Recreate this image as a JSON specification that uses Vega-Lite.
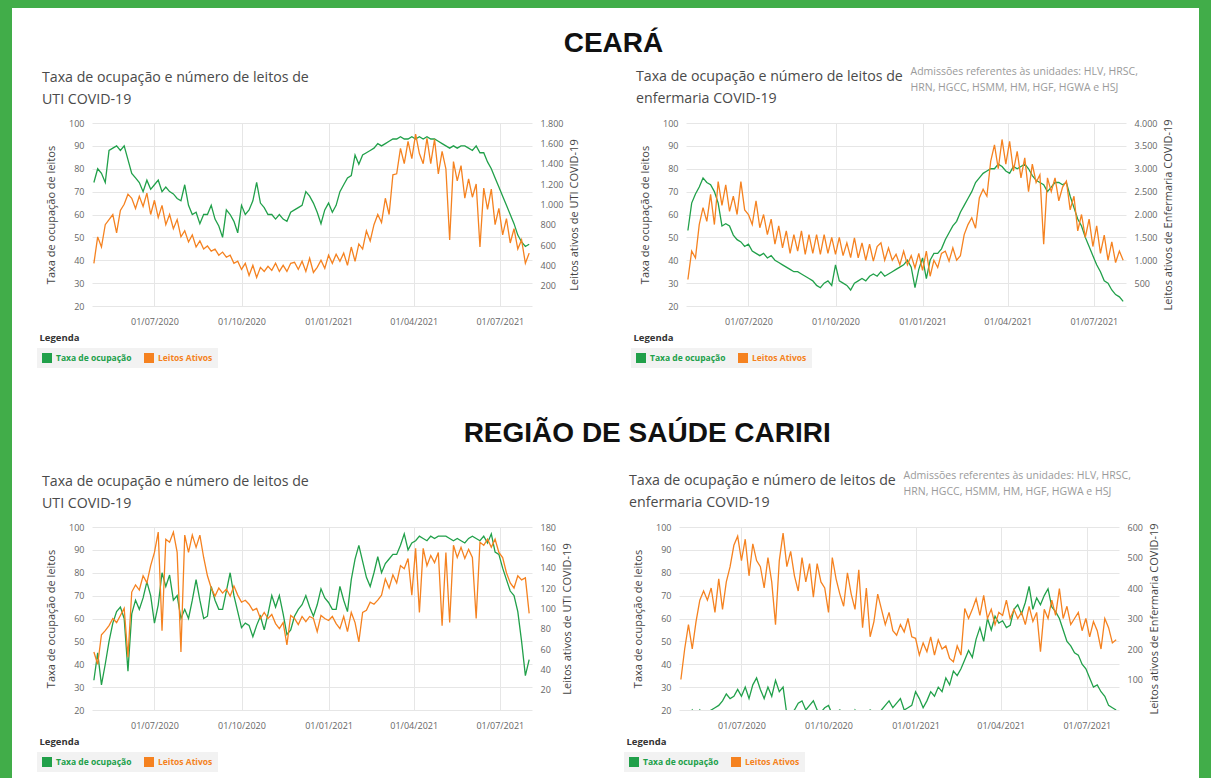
{
"$schema":"https://vega.github.io/schema/vega-lite/v6.json",
"background":"white",
"padding":0,
"config":{"font":"Open Sans","view":{"stroke":null},
 "axis":{"labelFont":"Open Sans","labelFontSize":9,"labelColor":"#666","titleFont":"Open Sans","titleFontSize":11,"titleFontWeight":"normal","titleColor":"#444","ticks":false,"domain":false,"gridColor":"#e6e6e6","gridWidth":1},
 "title":{"font":"Open Sans"}},
"datasets":{
"ce_uti":[{"d":"2020-04-28","t":74,"l":420},{"d":"2020-05-02","t":80,"l":680},{"d":"2020-05-06","t":78,"l":580},{"d":"2020-05-10","t":74,"l":800},{"d":"2020-05-14","t":88,"l":850},{"d":"2020-05-18","t":89,"l":900},{"d":"2020-05-22","t":90,"l":720},{"d":"2020-05-26","t":88,"l":940},{"d":"2020-05-30","t":90,"l":1000},{"d":"2020-06-03","t":84,"l":1100},{"d":"2020-06-07","t":78,"l":1060},{"d":"2020-06-11","t":76,"l":960},{"d":"2020-06-15","t":74,"l":1080},{"d":"2020-06-19","t":70,"l":980},{"d":"2020-06-23","t":75,"l":1110},{"d":"2020-06-27","t":71,"l":900},{"d":"2020-07-01","t":73,"l":1040},{"d":"2020-07-05","t":75,"l":870},{"d":"2020-07-09","t":70,"l":990},{"d":"2020-07-13","t":72,"l":800},{"d":"2020-07-17","t":70,"l":900},{"d":"2020-07-21","t":69,"l":760},{"d":"2020-07-25","t":67,"l":850},{"d":"2020-07-29","t":66,"l":680},{"d":"2020-08-02","t":73,"l":740},{"d":"2020-08-06","t":64,"l":630},{"d":"2020-08-10","t":60,"l":700},{"d":"2020-08-14","t":61,"l":580},{"d":"2020-08-18","t":56,"l":640},{"d":"2020-08-22","t":60,"l":560},{"d":"2020-08-26","t":60,"l":590},{"d":"2020-08-30","t":64,"l":540},{"d":"2020-09-03","t":58,"l":560},{"d":"2020-09-07","t":55,"l":500},{"d":"2020-09-11","t":50,"l":530},{"d":"2020-09-15","t":62,"l":480},{"d":"2020-09-19","t":60,"l":500},{"d":"2020-09-23","t":57,"l":420},{"d":"2020-09-27","t":52,"l":440},{"d":"2020-10-01","t":64,"l":360},{"d":"2020-10-05","t":60,"l":420},{"d":"2020-10-09","t":62,"l":300},{"d":"2020-10-13","t":66,"l":400},{"d":"2020-10-17","t":74,"l":280},{"d":"2020-10-21","t":65,"l":380},{"d":"2020-10-25","t":63,"l":340},{"d":"2020-10-29","t":60,"l":390},{"d":"2020-11-02","t":60,"l":350},{"d":"2020-11-06","t":58,"l":420},{"d":"2020-11-10","t":60,"l":340},{"d":"2020-11-14","t":58,"l":400},{"d":"2020-11-18","t":57,"l":340},{"d":"2020-11-22","t":61,"l":420},{"d":"2020-11-26","t":62,"l":430},{"d":"2020-11-30","t":63,"l":360},{"d":"2020-12-04","t":64,"l":440},{"d":"2020-12-08","t":70,"l":340},{"d":"2020-12-12","t":68,"l":470},{"d":"2020-12-16","t":65,"l":330},{"d":"2020-12-20","t":61,"l":380},{"d":"2020-12-24","t":56,"l":450},{"d":"2020-12-28","t":62,"l":370},{"d":"2021-01-01","t":65,"l":500},{"d":"2021-01-05","t":61,"l":420},{"d":"2021-01-09","t":64,"l":510},{"d":"2021-01-13","t":70,"l":440},{"d":"2021-01-17","t":73,"l":520},{"d":"2021-01-21","t":76,"l":400},{"d":"2021-01-25","t":77,"l":580},{"d":"2021-01-29","t":86,"l":440},{"d":"2021-02-02","t":82,"l":610},{"d":"2021-02-06","t":86,"l":560},{"d":"2021-02-10","t":87,"l":740},{"d":"2021-02-14","t":88,"l":640},{"d":"2021-02-18","t":89,"l":800},{"d":"2021-02-22","t":91,"l":900},{"d":"2021-02-26","t":90,"l":820},{"d":"2021-03-02","t":91,"l":1060},{"d":"2021-03-06","t":92,"l":900},{"d":"2021-03-10","t":93,"l":1290},{"d":"2021-03-14","t":93,"l":1300},{"d":"2021-03-18","t":94,"l":1550},{"d":"2021-03-22","t":93,"l":1400},{"d":"2021-03-26","t":93,"l":1620},{"d":"2021-03-30","t":94,"l":1450},{"d":"2021-04-03","t":93,"l":1690},{"d":"2021-04-07","t":94,"l":1500},{"d":"2021-04-11","t":93,"l":1400},{"d":"2021-04-15","t":94,"l":1650},{"d":"2021-04-19","t":93,"l":1400},{"d":"2021-04-23","t":93,"l":1640},{"d":"2021-04-27","t":92,"l":1300},{"d":"2021-05-01","t":91,"l":1520},{"d":"2021-05-05","t":90,"l":1350},{"d":"2021-05-09","t":89,"l":650},{"d":"2021-05-13","t":90,"l":1420},{"d":"2021-05-17","t":89,"l":1230},{"d":"2021-05-21","t":90,"l":1380},{"d":"2021-05-25","t":90,"l":1060},{"d":"2021-05-29","t":89,"l":1250},{"d":"2021-06-02","t":88,"l":1070},{"d":"2021-06-06","t":90,"l":1200},{"d":"2021-06-10","t":87,"l":580},{"d":"2021-06-14","t":87,"l":1160},{"d":"2021-06-18","t":83,"l":950},{"d":"2021-06-22","t":80,"l":1150},{"d":"2021-06-26","t":76,"l":800},{"d":"2021-06-30","t":72,"l":960},{"d":"2021-07-04","t":68,"l":700},{"d":"2021-07-08","t":64,"l":860},{"d":"2021-07-12","t":60,"l":620},{"d":"2021-07-16","t":56,"l":760},{"d":"2021-07-20","t":51,"l":560},{"d":"2021-07-24","t":48,"l":650},{"d":"2021-07-28","t":46,"l":420},{"d":"2021-08-01","t":47,"l":520}],
"ce_enf":[{"d":"2020-04-28","t":53,"l":580},{"d":"2020-05-02","t":65,"l":1200},{"d":"2020-05-06","t":69,"l":1050},{"d":"2020-05-10","t":72,"l":1780},{"d":"2020-05-14","t":76,"l":2150},{"d":"2020-05-18","t":74,"l":1850},{"d":"2020-05-22","t":73,"l":2440},{"d":"2020-05-26","t":70,"l":1780},{"d":"2020-05-30","t":65,"l":2720},{"d":"2020-06-03","t":55,"l":2200},{"d":"2020-06-07","t":56,"l":2650},{"d":"2020-06-11","t":55,"l":2070},{"d":"2020-06-15","t":51,"l":2400},{"d":"2020-06-19","t":49,"l":2000},{"d":"2020-06-23","t":48,"l":2720},{"d":"2020-06-27","t":46,"l":2100},{"d":"2020-07-01","t":47,"l":2000},{"d":"2020-07-05","t":44,"l":1780},{"d":"2020-07-09","t":43,"l":2300},{"d":"2020-07-13","t":42,"l":1710},{"d":"2020-07-17","t":43,"l":2000},{"d":"2020-07-21","t":41,"l":1560},{"d":"2020-07-25","t":42,"l":1900},{"d":"2020-07-29","t":40,"l":1350},{"d":"2020-08-02","t":39,"l":1750},{"d":"2020-08-06","t":38,"l":1270},{"d":"2020-08-10","t":37,"l":1640},{"d":"2020-08-14","t":36,"l":1150},{"d":"2020-08-18","t":35,"l":1560},{"d":"2020-08-22","t":35,"l":1200},{"d":"2020-08-26","t":34,"l":1640},{"d":"2020-08-30","t":33,"l":1130},{"d":"2020-09-03","t":32,"l":1560},{"d":"2020-09-07","t":31,"l":1150},{"d":"2020-09-11","t":29,"l":1560},{"d":"2020-09-15","t":28,"l":1130},{"d":"2020-09-19","t":30,"l":1560},{"d":"2020-09-23","t":31,"l":1150},{"d":"2020-09-27","t":29,"l":1500},{"d":"2020-10-01","t":38,"l":1130},{"d":"2020-10-05","t":31,"l":1500},{"d":"2020-10-09","t":30,"l":1100},{"d":"2020-10-13","t":29,"l":1380},{"d":"2020-10-17","t":27,"l":1060},{"d":"2020-10-21","t":30,"l":1490},{"d":"2020-10-25","t":31,"l":1050},{"d":"2020-10-29","t":32,"l":1380},{"d":"2020-11-02","t":31,"l":1000},{"d":"2020-11-06","t":33,"l":1350},{"d":"2020-11-10","t":34,"l":980},{"d":"2020-11-14","t":33,"l":1300},{"d":"2020-11-18","t":35,"l":1380},{"d":"2020-11-22","t":33,"l":1000},{"d":"2020-11-26","t":34,"l":1270},{"d":"2020-11-30","t":35,"l":1000},{"d":"2020-12-04","t":36,"l":1130},{"d":"2020-12-08","t":37,"l":900},{"d":"2020-12-12","t":38,"l":1200},{"d":"2020-12-16","t":40,"l":900},{"d":"2020-12-20","t":37,"l":1100},{"d":"2020-12-24","t":28,"l":830},{"d":"2020-12-28","t":36,"l":1150},{"d":"2021-01-01","t":41,"l":780},{"d":"2021-01-05","t":32,"l":1200},{"d":"2021-01-09","t":40,"l":650},{"d":"2021-01-13","t":43,"l":1000},{"d":"2021-01-17","t":43,"l":840},{"d":"2021-01-21","t":45,"l":1150},{"d":"2021-01-25","t":49,"l":1200},{"d":"2021-01-29","t":52,"l":980},{"d":"2021-02-02","t":55,"l":1270},{"d":"2021-02-06","t":57,"l":1000},{"d":"2021-02-10","t":61,"l":1100},{"d":"2021-02-14","t":64,"l":1560},{"d":"2021-02-18","t":67,"l":1780},{"d":"2021-02-22","t":70,"l":1930},{"d":"2021-02-26","t":74,"l":1700},{"d":"2021-03-02","t":76,"l":2360},{"d":"2021-03-06","t":78,"l":2550},{"d":"2021-03-10","t":79,"l":2400},{"d":"2021-03-14","t":80,"l":3160},{"d":"2021-03-18","t":80,"l":3520},{"d":"2021-03-22","t":82,"l":3000},{"d":"2021-03-26","t":81,"l":3640},{"d":"2021-03-30","t":79,"l":3100},{"d":"2021-04-03","t":78,"l":3600},{"d":"2021-04-07","t":81,"l":2950},{"d":"2021-04-11","t":80,"l":3380},{"d":"2021-04-15","t":81,"l":2800},{"d":"2021-04-19","t":82,"l":3240},{"d":"2021-04-23","t":80,"l":2500},{"d":"2021-04-27","t":77,"l":3100},{"d":"2021-05-01","t":75,"l":2700},{"d":"2021-05-05","t":74,"l":2870},{"d":"2021-05-09","t":73,"l":1350},{"d":"2021-05-13","t":70,"l":2800},{"d":"2021-05-17","t":72,"l":2500},{"d":"2021-05-21","t":74,"l":2800},{"d":"2021-05-25","t":74,"l":2300},{"d":"2021-05-29","t":73,"l":2600},{"d":"2021-06-02","t":74,"l":2730},{"d":"2021-06-06","t":68,"l":2100},{"d":"2021-06-10","t":63,"l":2400},{"d":"2021-06-14","t":58,"l":1640},{"d":"2021-06-18","t":55,"l":2000},{"d":"2021-06-22","t":50,"l":1500},{"d":"2021-06-26","t":46,"l":1900},{"d":"2021-06-30","t":42,"l":1300},{"d":"2021-07-04","t":38,"l":1750},{"d":"2021-07-08","t":35,"l":1150},{"d":"2021-07-12","t":31,"l":1550},{"d":"2021-07-16","t":30,"l":1000},{"d":"2021-07-20","t":27,"l":1400},{"d":"2021-07-24","t":25,"l":950},{"d":"2021-07-28","t":24,"l":1200},{"d":"2021-08-01","t":22,"l":1000}],
"ca_uti":[{"d":"2020-04-28","t":33,"l":57},{"d":"2020-05-02","t":45,"l":45},{"d":"2020-05-06","t":31,"l":74},{"d":"2020-05-10","t":40,"l":78},{"d":"2020-05-14","t":50,"l":83},{"d":"2020-05-18","t":58,"l":90},{"d":"2020-05-22","t":63,"l":86},{"d":"2020-05-26","t":65,"l":93},{"d":"2020-05-30","t":60,"l":100},{"d":"2020-06-03","t":37,"l":52},{"d":"2020-06-07","t":62,"l":116},{"d":"2020-06-11","t":68,"l":123},{"d":"2020-06-15","t":64,"l":118},{"d":"2020-06-19","t":69,"l":132},{"d":"2020-06-23","t":76,"l":125},{"d":"2020-06-27","t":70,"l":142},{"d":"2020-07-01","t":58,"l":155},{"d":"2020-07-05","t":66,"l":175},{"d":"2020-07-09","t":80,"l":78},{"d":"2020-07-13","t":74,"l":168},{"d":"2020-07-17","t":79,"l":165},{"d":"2020-07-21","t":68,"l":175},{"d":"2020-07-25","t":70,"l":155},{"d":"2020-07-29","t":60,"l":57},{"d":"2020-08-02","t":64,"l":172},{"d":"2020-08-06","t":60,"l":155},{"d":"2020-08-10","t":68,"l":172},{"d":"2020-08-14","t":77,"l":160},{"d":"2020-08-18","t":68,"l":172},{"d":"2020-08-22","t":60,"l":150},{"d":"2020-08-26","t":61,"l":132},{"d":"2020-08-30","t":74,"l":120},{"d":"2020-09-03","t":68,"l":112},{"d":"2020-09-07","t":64,"l":120},{"d":"2020-09-11","t":64,"l":115},{"d":"2020-09-15","t":72,"l":119},{"d":"2020-09-19","t":80,"l":112},{"d":"2020-09-23","t":70,"l":122},{"d":"2020-09-27","t":63,"l":113},{"d":"2020-10-01","t":56,"l":106},{"d":"2020-10-05","t":58,"l":108},{"d":"2020-10-09","t":57,"l":104},{"d":"2020-10-13","t":52,"l":98},{"d":"2020-10-17","t":57,"l":100},{"d":"2020-10-21","t":61,"l":90},{"d":"2020-10-25","t":55,"l":96},{"d":"2020-10-29","t":62,"l":90},{"d":"2020-11-02","t":70,"l":94},{"d":"2020-11-06","t":65,"l":85},{"d":"2020-11-10","t":70,"l":80},{"d":"2020-11-14","t":62,"l":86},{"d":"2020-11-18","t":53,"l":64},{"d":"2020-11-22","t":55,"l":93},{"d":"2020-11-26","t":61,"l":90},{"d":"2020-11-30","t":64,"l":84},{"d":"2020-12-04","t":66,"l":92},{"d":"2020-12-08","t":70,"l":87},{"d":"2020-12-12","t":65,"l":92},{"d":"2020-12-16","t":61,"l":90},{"d":"2020-12-20","t":66,"l":77},{"d":"2020-12-24","t":73,"l":93},{"d":"2020-12-28","t":69,"l":90},{"d":"2021-01-01","t":67,"l":88},{"d":"2021-01-05","t":64,"l":92},{"d":"2021-01-09","t":64,"l":85},{"d":"2021-01-13","t":74,"l":80},{"d":"2021-01-17","t":68,"l":92},{"d":"2021-01-21","t":63,"l":77},{"d":"2021-01-25","t":77,"l":96},{"d":"2021-01-29","t":86,"l":86},{"d":"2021-02-02","t":92,"l":67},{"d":"2021-02-06","t":85,"l":96},{"d":"2021-02-10","t":78,"l":98},{"d":"2021-02-14","t":74,"l":106},{"d":"2021-02-18","t":80,"l":104},{"d":"2021-02-22","t":87,"l":108},{"d":"2021-02-26","t":80,"l":113},{"d":"2021-03-02","t":84,"l":129},{"d":"2021-03-06","t":86,"l":120},{"d":"2021-03-10","t":88,"l":133},{"d":"2021-03-14","t":88,"l":125},{"d":"2021-03-18","t":92,"l":142},{"d":"2021-03-22","t":97,"l":139},{"d":"2021-03-26","t":90,"l":149},{"d":"2021-03-30","t":93,"l":113},{"d":"2021-04-03","t":94,"l":159},{"d":"2021-04-07","t":96,"l":96},{"d":"2021-04-11","t":95,"l":159},{"d":"2021-04-15","t":94,"l":142},{"d":"2021-04-19","t":96,"l":152},{"d":"2021-04-23","t":95,"l":145},{"d":"2021-04-27","t":96,"l":155},{"d":"2021-05-01","t":96,"l":83},{"d":"2021-05-05","t":96,"l":155},{"d":"2021-05-09","t":95,"l":86},{"d":"2021-05-13","t":94,"l":162},{"d":"2021-05-17","t":95,"l":150},{"d":"2021-05-21","t":94,"l":160},{"d":"2021-05-25","t":93,"l":149},{"d":"2021-05-29","t":95,"l":158},{"d":"2021-06-02","t":96,"l":150},{"d":"2021-06-06","t":95,"l":90},{"d":"2021-06-10","t":94,"l":165},{"d":"2021-06-14","t":96,"l":162},{"d":"2021-06-18","t":93,"l":168},{"d":"2021-06-22","t":97,"l":160},{"d":"2021-06-26","t":89,"l":168},{"d":"2021-06-30","t":88,"l":155},{"d":"2021-07-04","t":82,"l":150},{"d":"2021-07-08","t":77,"l":135},{"d":"2021-07-12","t":72,"l":125},{"d":"2021-07-16","t":70,"l":120},{"d":"2021-07-20","t":63,"l":132},{"d":"2021-07-24","t":50,"l":128},{"d":"2021-07-28","t":35,"l":130},{"d":"2021-08-01","t":42,"l":95}],
"ca_enf":[{"d":"2020-04-28","t":15,"l":100},{"d":"2020-05-02","t":17,"l":200},{"d":"2020-05-06","t":18,"l":280},{"d":"2020-05-10","t":20,"l":200},{"d":"2020-05-14","t":17,"l":290},{"d":"2020-05-18","t":20,"l":360},{"d":"2020-05-22","t":18,"l":390},{"d":"2020-05-26","t":19,"l":360},{"d":"2020-05-30","t":20,"l":400},{"d":"2020-06-03","t":21,"l":320},{"d":"2020-06-07","t":22,"l":430},{"d":"2020-06-11","t":24,"l":330},{"d":"2020-06-15","t":27,"l":420},{"d":"2020-06-19","t":25,"l":470},{"d":"2020-06-23","t":26,"l":540},{"d":"2020-06-27","t":29,"l":570},{"d":"2020-07-01","t":26,"l":490},{"d":"2020-07-05","t":30,"l":560},{"d":"2020-07-09","t":25,"l":440},{"d":"2020-07-13","t":31,"l":545},{"d":"2020-07-17","t":34,"l":490},{"d":"2020-07-21","t":29,"l":470},{"d":"2020-07-25","t":25,"l":400},{"d":"2020-07-29","t":30,"l":500},{"d":"2020-08-02","t":26,"l":420},{"d":"2020-08-06","t":33,"l":280},{"d":"2020-08-10","t":28,"l":490},{"d":"2020-08-14","t":30,"l":580},{"d":"2020-08-18","t":18,"l":470},{"d":"2020-08-22","t":19,"l":520},{"d":"2020-08-26","t":20,"l":440},{"d":"2020-08-30","t":23,"l":390},{"d":"2020-09-03","t":24,"l":500},{"d":"2020-09-07","t":20,"l":420},{"d":"2020-09-11","t":22,"l":480},{"d":"2020-09-15","t":24,"l":370},{"d":"2020-09-19","t":20,"l":480},{"d":"2020-09-23","t":19,"l":420},{"d":"2020-09-27","t":21,"l":400},{"d":"2020-10-01","t":22,"l":320},{"d":"2020-10-05","t":18,"l":500},{"d":"2020-10-09","t":19,"l":430},{"d":"2020-10-13","t":20,"l":380},{"d":"2020-10-17","t":17,"l":340},{"d":"2020-10-21","t":19,"l":450},{"d":"2020-10-25","t":16,"l":380},{"d":"2020-10-29","t":20,"l":330},{"d":"2020-11-02","t":17,"l":460},{"d":"2020-11-06","t":19,"l":270},{"d":"2020-11-10","t":16,"l":400},{"d":"2020-11-14","t":20,"l":240},{"d":"2020-11-18","t":19,"l":290},{"d":"2020-11-22","t":18,"l":380},{"d":"2020-11-26","t":20,"l":330},{"d":"2020-11-30","t":22,"l":280},{"d":"2020-12-04","t":24,"l":320},{"d":"2020-12-08","t":21,"l":260},{"d":"2020-12-12","t":23,"l":245},{"d":"2020-12-16","t":25,"l":280},{"d":"2020-12-20","t":20,"l":256},{"d":"2020-12-24","t":21,"l":300},{"d":"2020-12-28","t":22,"l":240},{"d":"2021-01-01","t":28,"l":235},{"d":"2021-01-05","t":25,"l":180},{"d":"2021-01-09","t":21,"l":220},{"d":"2021-01-13","t":24,"l":191},{"d":"2021-01-17","t":28,"l":240},{"d":"2021-01-21","t":26,"l":180},{"d":"2021-01-25","t":30,"l":230},{"d":"2021-01-29","t":28,"l":200},{"d":"2021-02-02","t":34,"l":210},{"d":"2021-02-06","t":31,"l":169},{"d":"2021-02-10","t":37,"l":158},{"d":"2021-02-14","t":35,"l":210},{"d":"2021-02-18","t":38,"l":180},{"d":"2021-02-22","t":42,"l":333},{"d":"2021-02-26","t":46,"l":300},{"d":"2021-03-02","t":43,"l":330},{"d":"2021-03-06","t":51,"l":365},{"d":"2021-03-10","t":56,"l":310},{"d":"2021-03-14","t":50,"l":376},{"d":"2021-03-18","t":60,"l":300},{"d":"2021-03-22","t":55,"l":330},{"d":"2021-03-26","t":61,"l":280},{"d":"2021-03-30","t":58,"l":320},{"d":"2021-04-03","t":59,"l":310},{"d":"2021-04-07","t":56,"l":360},{"d":"2021-04-11","t":57,"l":300},{"d":"2021-04-15","t":64,"l":330},{"d":"2021-04-19","t":66,"l":300},{"d":"2021-04-23","t":62,"l":320},{"d":"2021-04-27","t":67,"l":280},{"d":"2021-05-01","t":74,"l":340},{"d":"2021-05-05","t":64,"l":290},{"d":"2021-05-09","t":69,"l":320},{"d":"2021-05-13","t":66,"l":191},{"d":"2021-05-17","t":70,"l":330},{"d":"2021-05-21","t":73,"l":300},{"d":"2021-05-25","t":65,"l":360},{"d":"2021-05-29","t":63,"l":310},{"d":"2021-06-02","t":60,"l":398},{"d":"2021-06-06","t":55,"l":300},{"d":"2021-06-10","t":50,"l":340},{"d":"2021-06-14","t":48,"l":280},{"d":"2021-06-18","t":45,"l":300},{"d":"2021-06-22","t":44,"l":320},{"d":"2021-06-26","t":40,"l":260},{"d":"2021-06-30","t":38,"l":300},{"d":"2021-07-04","t":34,"l":240},{"d":"2021-07-08","t":30,"l":290},{"d":"2021-07-12","t":31,"l":260},{"d":"2021-07-16","t":28,"l":200},{"d":"2021-07-20","t":26,"l":300},{"d":"2021-07-24","t":22,"l":270},{"d":"2021-07-28","t":21,"l":220},{"d":"2021-08-01","t":20,"l":230}]
},
"spacing":0,
"resolve":{"scale":{"color":"independent"},"legend":{"color":"independent"}},
"vconcat":[
 {"width":1211,"height":8,"data":{"values":[]},"mark":"point","view":{"fill":"#41ad49","stroke":null}},
 {"spacing":25,
  "resolve":{"scale":{"color":"independent"},"legend":{"color":"independent"}},
  "hconcat":[
  {"width":12,"height":770,"data":{"values":[]},"mark":"point","view":{"fill":"#41ad49","stroke":null}},
  {"spacing":10,
   "resolve":{"scale":{"color":"independent"},"legend":{"color":"independent"}},
   "vconcat":[
   {"width":1,"height":12,"data":{"values":[]},"mark":"point"},
   {"title":{"text":"CEARÁ","anchor":"middle","fontSize":28,"font":"Liberation Sans","fontWeight":"bold","color":"#111","offset":8,"dx":8},
    "spacing":51,
    "resolve":{"scale":{"color":"independent"},"legend":{"color":"independent"}},
    "hconcat":[
     {"width":440,"height":183,
      "title":{"text":["Taxa de ocupação e número de leitos de","UTI COVID-19"],"anchor":"start","fontSize":14.2,"fontWeight":"normal","color":"#4a4a4a","lineHeight":22,"offset":12,"dx":5},
      "data":{"name":"ce_uti"},
      "layer":[
       {"mark":{"type":"line","strokeWidth":1.3,"clip":true},
        "encoding":{
         "x":{"field":"d","type":"temporal","scale":{"type":"utc","domain":[{"year":2020,"month":4,"date":26,"utc":true},{"year":2021,"month":8,"date":4,"utc":true}]},"axis":{"values":[{"year":2020,"month":7,"date":1,"utc":true},{"year":2020,"month":10,"date":1,"utc":true},{"year":2021,"month":1,"date":1,"utc":true},{"year":2021,"month":4,"date":1,"utc":true},{"year":2021,"month":7,"date":1,"utc":true}],"labelExpr":"utcFormat(datum.value, '%d/%m/%Y')","grid":true,"labelPadding":11,"title":"Legenda","titleX":-53,"titleY":31,"titleAlign":"left","titleBaseline":"middle","titleAnchor":"start","titleFontWeight":"bold","titleFontSize":9.5,"titleColor":"#333"}},
         "y":{"field":"t","type":"quantitative","scale":{"domain":[20,100],"nice":false,"zero":false},"axis":{"values":[20,30,40,50,60,70,80,90,100],"title":"Taxa de ocupação de leitos","grid":true,"labelPadding":8,"titlePadding":12}},
         "color":{"datum":"Taxa de ocupação","type":"nominal","scale":{"domain":["Taxa de ocupação","Leitos Ativos"],"range":["#21a04a","#f58220"]},
          "legend":{"orient":"none","legendX":-55,"legendY":225,"direction":"horizontal","title":null,"symbolType":"square","symbolSize":100,"symbolStrokeWidth":0,"labelFontSize":8.5,"labelFontWeight":"bold","labelFont":"Open Sans","fillColor":"#f2f2f2","padding":5,"columnPadding":12,"labelOffset":4,
           "encode":{"symbols":{"update":{"fill":{"signal":"datum.value === 'Taxa de ocupação' ? '#21a04a' : '#f58220'"},"stroke":{"value":"transparent"}}},"labels":{"update":{"fill":{"signal":"datum.value === 'Taxa de ocupação' ? '#21a04a' : '#f58220'"}}}}}}
        }},
       {"mark":{"type":"line","strokeWidth":1.3,"clip":true},
        "encoding":{
         "x":{"field":"d","type":"temporal","axis":null},
         "y":{"field":"l","type":"quantitative","scale":{"domain":[0,1800],"nice":false},"axis":{"orient":"right","values":[200,400,600,800,1000,1200,1400,1600,1800],"labelExpr":"replace(format(datum.value, ','), ',', '.')","title":"Leitos ativos de UTI COVID-19","titleAngle":270,"titleBaseline":"top","grid":false,"labelPadding":8,"titlePadding":6}},
         "color":{"datum":"Leitos Ativos","type":"nominal"}
        }}
      ],
      "resolve":{"scale":{"y":"independent"},"axis":{"x":"independent"}}
     },
     {"width":440,"height":183,
      "title":{"text":["Taxa de ocupação e número de leitos de","enfermaria COVID-19"],"anchor":"start","fontSize":14.2,"fontWeight":"normal","color":"#4a4a4a","lineHeight":22,"offset":-40,"dx":5},
      "data":{"name":"ce_enf"},
      "layer":[
       {"mark":{"type":"line","strokeWidth":1.3,"clip":true},
        "encoding":{
         "x":{"field":"d","type":"temporal","scale":{"type":"utc","domain":[{"year":2020,"month":4,"date":26,"utc":true},{"year":2021,"month":8,"date":4,"utc":true}]},"axis":{"values":[{"year":2020,"month":7,"date":1,"utc":true},{"year":2020,"month":10,"date":1,"utc":true},{"year":2021,"month":1,"date":1,"utc":true},{"year":2021,"month":4,"date":1,"utc":true},{"year":2021,"month":7,"date":1,"utc":true}],"labelExpr":"utcFormat(datum.value, '%d/%m/%Y')","grid":true,"labelPadding":11,"title":"Legenda","titleX":-53,"titleY":31,"titleAlign":"left","titleBaseline":"middle","titleAnchor":"start","titleFontWeight":"bold","titleFontSize":9.5,"titleColor":"#333"}},
         "y":{"field":"t","type":"quantitative","scale":{"domain":[20,100],"nice":false,"zero":false},"axis":{"values":[20,30,40,50,60,70,80,90,100],"title":"Taxa de ocupação de leitos","grid":true,"labelPadding":8,"titlePadding":12}},
         "color":{"datum":"Taxa de ocupação","type":"nominal","scale":{"domain":["Taxa de ocupação","Leitos Ativos"],"range":["#21a04a","#f58220"]},
          "legend":{"orient":"none","legendX":-55,"legendY":225,"direction":"horizontal","title":null,"symbolType":"square","symbolSize":100,"symbolStrokeWidth":0,"labelFontSize":8.5,"labelFontWeight":"bold","labelFont":"Open Sans","fillColor":"#f2f2f2","padding":5,"columnPadding":12,"labelOffset":4,
           "encode":{"symbols":{"update":{"fill":{"signal":"datum.value === 'Taxa de ocupação' ? '#21a04a' : '#f58220'"},"stroke":{"value":"transparent"}}},"labels":{"update":{"fill":{"signal":"datum.value === 'Taxa de ocupação' ? '#21a04a' : '#f58220'"}}}}}}
        }},
       {"mark":{"type":"line","strokeWidth":1.3,"clip":true},
        "encoding":{
         "x":{"field":"d","type":"temporal","axis":{"orient":"top","labels":false,"ticks":false,"domain":false,"grid":false,"title":["Admissões referentes às unidades: HLV, HRSC,","HRN, HGCC, HSMM, HM, HGF, HGWA e HSJ"],"titleX":224,"titleY":-57,"titleAlign":"left","titleBaseline":"top","titleAnchor":"start","titleFontSize":10.5,"titleFontWeight":"normal","titleColor":"#9a9a9a","titleLineHeight":16}},
         "y":{"field":"l","type":"quantitative","scale":{"domain":[0,4000],"nice":false},"axis":{"orient":"right","values":[500,1000,1500,2000,2500,3000,3500,4000],"labelExpr":"replace(format(datum.value, ','), ',', '.')","title":"Leitos ativos de Enfermaria COVID-19","titleAngle":270,"titleBaseline":"top","grid":false,"labelPadding":8,"titlePadding":6}},
         "color":{"datum":"Leitos Ativos","type":"nominal"}
        }}
      ],
      "resolve":{"scale":{"y":"independent"},"axis":{"x":"independent"}}
     }
    ]},
   {"width":1,"height":32,"data":{"values":[]},"mark":"point"},
   {"title":{"text":"REGIÃO DE SAÚDE CARIRI","anchor":"middle","fontSize":28,"font":"Liberation Sans","fontWeight":"bold","color":"#111","offset":22,"dx":49},
    "spacing":51,
    "resolve":{"scale":{"color":"independent"},"legend":{"color":"independent"}},
    "hconcat":[
     {"width":440,"height":183,
      "title":{"text":["Taxa de ocupação e número de leitos de","UTI COVID-19"],"anchor":"start","fontSize":14.2,"fontWeight":"normal","color":"#4a4a4a","lineHeight":22,"offset":12,"dx":5},
      "data":{"name":"ca_uti"},
      "layer":[
       {"mark":{"type":"line","strokeWidth":1.3,"clip":true},
        "encoding":{
         "x":{"field":"d","type":"temporal","scale":{"type":"utc","domain":[{"year":2020,"month":4,"date":26,"utc":true},{"year":2021,"month":8,"date":4,"utc":true}]},"axis":{"values":[{"year":2020,"month":7,"date":1,"utc":true},{"year":2020,"month":10,"date":1,"utc":true},{"year":2021,"month":1,"date":1,"utc":true},{"year":2021,"month":4,"date":1,"utc":true},{"year":2021,"month":7,"date":1,"utc":true}],"labelExpr":"utcFormat(datum.value, '%d/%m/%Y')","grid":true,"labelPadding":11,"title":"Legenda","titleX":-53,"titleY":31,"titleAlign":"left","titleBaseline":"middle","titleAnchor":"start","titleFontWeight":"bold","titleFontSize":9.5,"titleColor":"#333"}},
         "y":{"field":"t","type":"quantitative","scale":{"domain":[20,100],"nice":false,"zero":false},"axis":{"values":[20,30,40,50,60,70,80,90,100],"title":"Taxa de ocupação de leitos","grid":true,"labelPadding":8,"titlePadding":12}},
         "color":{"datum":"Taxa de ocupação","type":"nominal","scale":{"domain":["Taxa de ocupação","Leitos Ativos"],"range":["#21a04a","#f58220"]},
          "legend":{"orient":"none","legendX":-55,"legendY":225,"direction":"horizontal","title":null,"symbolType":"square","symbolSize":100,"symbolStrokeWidth":0,"labelFontSize":8.5,"labelFontWeight":"bold","labelFont":"Open Sans","fillColor":"#f2f2f2","padding":5,"columnPadding":12,"labelOffset":4,
           "encode":{"symbols":{"update":{"fill":{"signal":"datum.value === 'Taxa de ocupação' ? '#21a04a' : '#f58220'"},"stroke":{"value":"transparent"}}},"labels":{"update":{"fill":{"signal":"datum.value === 'Taxa de ocupação' ? '#21a04a' : '#f58220'"}}}}}}
        }},
       {"mark":{"type":"line","strokeWidth":1.3,"clip":true},
        "encoding":{
         "x":{"field":"d","type":"temporal","axis":null},
         "y":{"field":"l","type":"quantitative","scale":{"domain":[0,180],"nice":false},"axis":{"orient":"right","values":[20,40,60,80,100,120,140,160,180],"title":"Leitos ativos de UTI COVID-19","titleAngle":270,"titleBaseline":"top","grid":false,"labelPadding":8,"titlePadding":6}},
         "color":{"datum":"Leitos Ativos","type":"nominal"}
        }}
      ],
      "resolve":{"scale":{"y":"independent"},"axis":{"x":"independent"}}
     },
     {"width":440,"height":183,
      "title":{"text":["Taxa de ocupação e número de leitos de","enfermaria COVID-19"],"anchor":"start","fontSize":14.2,"fontWeight":"normal","color":"#4a4a4a","lineHeight":22,"offset":-40,"dx":5},
      "data":{"name":"ca_enf"},
      "layer":[
       {"mark":{"type":"line","strokeWidth":1.3,"clip":true},
        "encoding":{
         "x":{"field":"d","type":"temporal","scale":{"type":"utc","domain":[{"year":2020,"month":4,"date":26,"utc":true},{"year":2021,"month":8,"date":4,"utc":true}]},"axis":{"values":[{"year":2020,"month":7,"date":1,"utc":true},{"year":2020,"month":10,"date":1,"utc":true},{"year":2021,"month":1,"date":1,"utc":true},{"year":2021,"month":4,"date":1,"utc":true},{"year":2021,"month":7,"date":1,"utc":true}],"labelExpr":"utcFormat(datum.value, '%d/%m/%Y')","grid":true,"labelPadding":11,"title":"Legenda","titleX":-53,"titleY":31,"titleAlign":"left","titleBaseline":"middle","titleAnchor":"start","titleFontWeight":"bold","titleFontSize":9.5,"titleColor":"#333"}},
         "y":{"field":"t","type":"quantitative","scale":{"domain":[20,100],"nice":false,"zero":false},"axis":{"values":[20,30,40,50,60,70,80,90,100],"title":"Taxa de ocupação de leitos","grid":true,"labelPadding":8,"titlePadding":12}},
         "color":{"datum":"Taxa de ocupação","type":"nominal","scale":{"domain":["Taxa de ocupação","Leitos Ativos"],"range":["#21a04a","#f58220"]},
          "legend":{"orient":"none","legendX":-55,"legendY":225,"direction":"horizontal","title":null,"symbolType":"square","symbolSize":100,"symbolStrokeWidth":0,"labelFontSize":8.5,"labelFontWeight":"bold","labelFont":"Open Sans","fillColor":"#f2f2f2","padding":5,"columnPadding":12,"labelOffset":4,
           "encode":{"symbols":{"update":{"fill":{"signal":"datum.value === 'Taxa de ocupação' ? '#21a04a' : '#f58220'"},"stroke":{"value":"transparent"}}},"labels":{"update":{"fill":{"signal":"datum.value === 'Taxa de ocupação' ? '#21a04a' : '#f58220'"}}}}}}
        }},
       {"mark":{"type":"line","strokeWidth":1.3,"clip":true},
        "encoding":{
         "x":{"field":"d","type":"temporal","axis":{"orient":"top","labels":false,"ticks":false,"domain":false,"grid":false,"title":["Admissões referentes às unidades: HLV, HRSC,","HRN, HGCC, HSMM, HM, HGF, HGWA e HSJ"],"titleX":224,"titleY":-57,"titleAlign":"left","titleBaseline":"top","titleAnchor":"start","titleFontSize":10.5,"titleFontWeight":"normal","titleColor":"#9a9a9a","titleLineHeight":16}},
         "y":{"field":"l","type":"quantitative","scale":{"domain":[0,600],"nice":false},"axis":{"orient":"right","values":[100,200,300,400,500,600],"title":"Leitos ativos de Enfermaria COVID-19","titleAngle":270,"titleBaseline":"top","grid":false,"labelPadding":8,"titlePadding":6}},
         "color":{"datum":"Leitos Ativos","type":"nominal"}
        }}
      ],
      "resolve":{"scale":{"y":"independent"},"axis":{"x":"independent"}}
     }
    ]}
  ]},
  {"width":14,"height":770,"data":{"values":[]},"mark":"point","view":{"fill":"#41ad49","stroke":null}}
 ]}
]
}
